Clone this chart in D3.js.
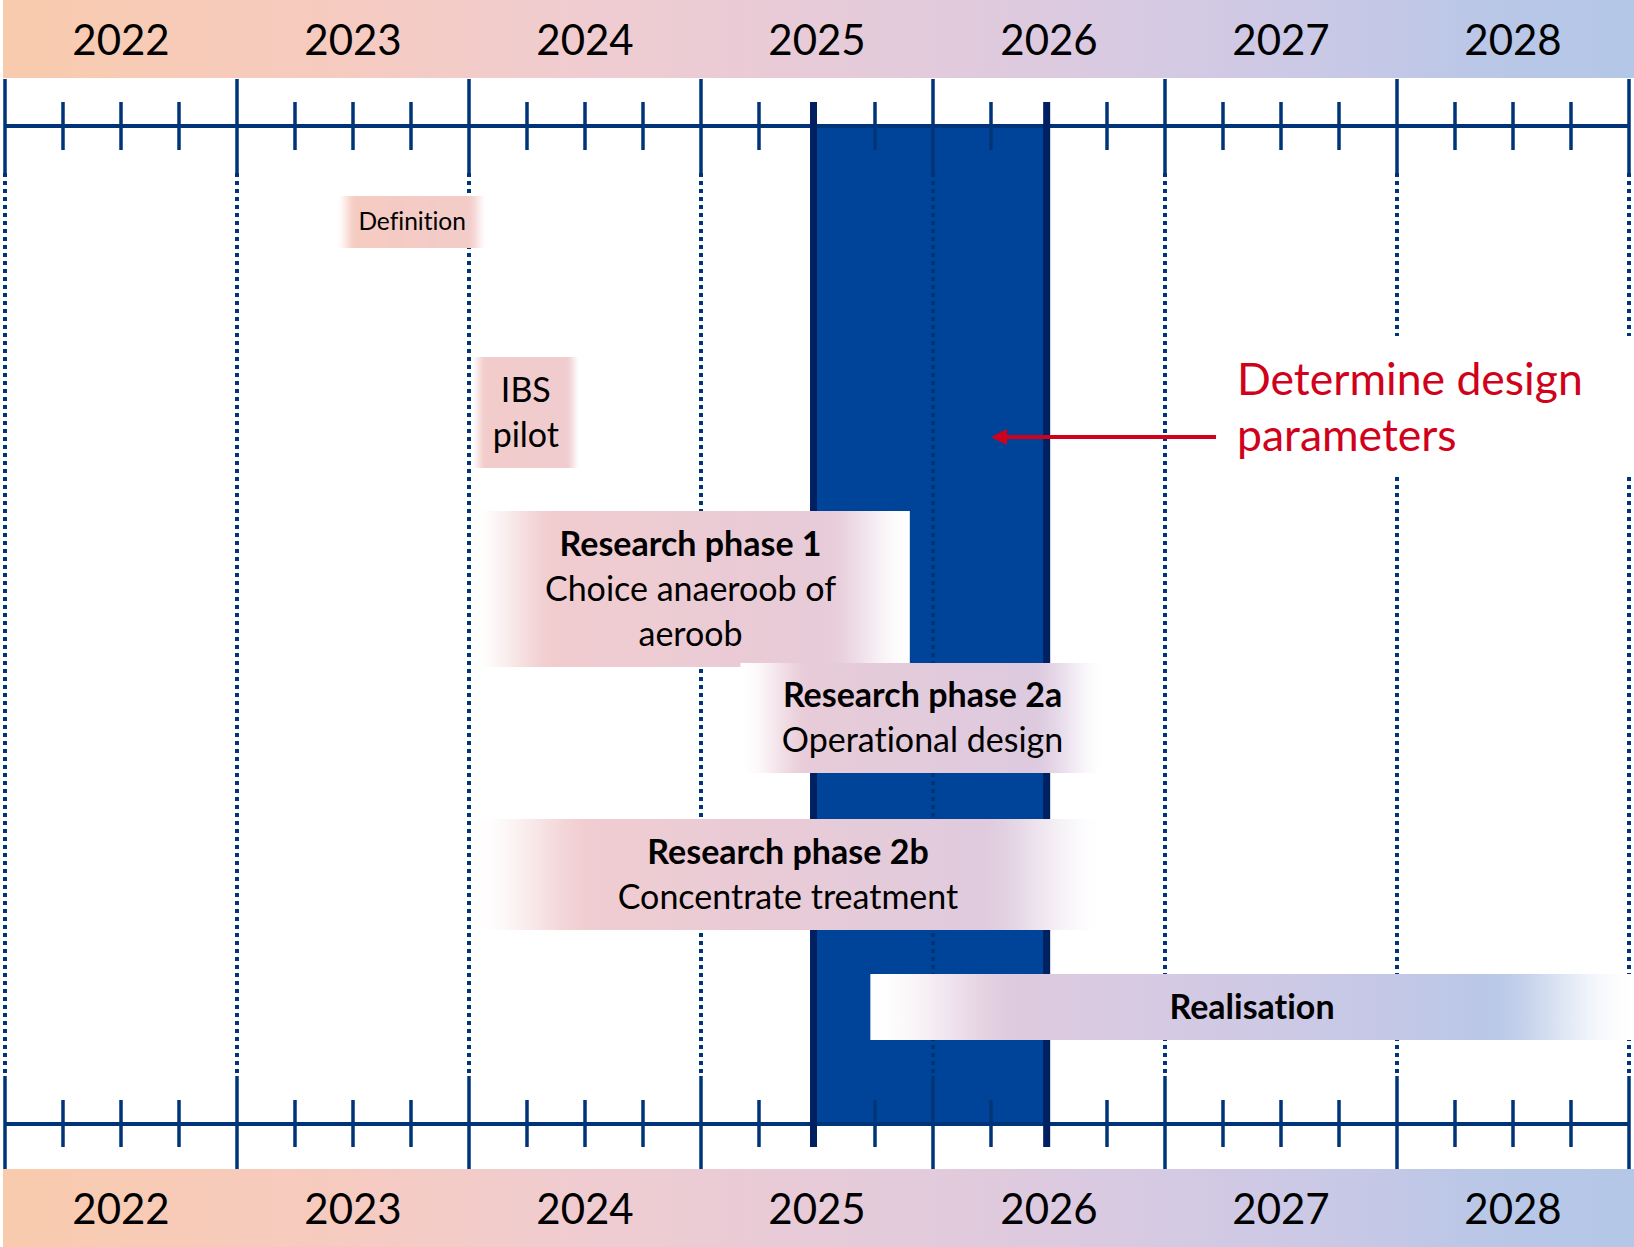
<!DOCTYPE html>
<html><head><meta charset="utf-8">
<script src="https://cdn.jsdelivr.net/npm/d3@7"></script>
<style>html,body{margin:0;padding:0;background:#fff;} svg{display:block;} text{font-variant-ligatures:none;font-feature-settings:"liga" 0;}</style>
</head><body>
<svg id="chart" width="1634" height="1247"></svg>
<script>
// ---------------- data ----------------
const years = [2022, 2023, 2024, 2025, 2026, 2027, 2028];
const quarterOffsets = [0.25, 0.5, 0.75];
const phaseTitles = ["", "", "Research phase 1", "Research phase 2a", "Research phase 2b", "Realisation"];
const phaseLines = [["Definition"], ["IBS", "pilot"], ["Choice anaeroob of", "aeroob"], ["Operational design"], ["Concentrate treatment"], []];
const phaseStart = [2023.43, 2024.01, 2024.01, 2025.17, 2024.02, 2025.73];
const phaseEnd   = [2024.08, 2024.48, 2025.90, 2026.74, 2026.73, 2029.02];
const focusWindow = [2025.485, 2026.49];
const focusLabel = ["Determine design", "parameters"];
const arrowSpan = [2027.22, 2026.25];

// ---------------- layout ----------------
const W = 1634, H = 1247;
const FONT = "Lato, 'Open Sans', 'DejaVu Sans', sans-serif";
const NAVY = "#003479", DARK = "#002060", RECT = "#00449a", RED = "#d0021b";
const rowBox = [[196, 248, 24.5, 0.13], [357, 468, 34, 0.13], [511, 667, 34, 0.2], [663, 773, 34, 0.2], [819, 930, 34, 0.2], [974, 1040, 34, 0.2]];
const lineH = 45;

const svg = d3.select("#chart");
const defs = svg.append("defs");
const x = d3.scaleLinear().domain([2022, 2029]).range([5, 1629]);

const bandColor = d3.scaleLinear()
  .domain([0, 0.2, 0.35, 0.5, 0.65, 0.8, 0.92, 1])
  .range(["#f8cbad", "#f6cbbf", "#f0ccd0", "#e7cbd8", "#dccae0", "#cbc9e6", "#b8c7e7", "#b4c7e7"])
  .interpolate(d3.interpolateRgb);

// header gradient
const hg = defs.append("linearGradient").attr("id", "band")
  .attr("gradientUnits", "userSpaceOnUse").attr("x1", 0).attr("x2", W).attr("y1", 0).attr("y2", 0);
d3.range(0, 1.0001, 0.05).forEach(t => hg.append("stop").attr("offset", t).attr("stop-color", bandColor(t)));

// bands
[[0, 78, 40], [1169, 1247, 1209]].forEach(([y0, y1, yc]) => {
  svg.append("rect").attr("x", 3).attr("y", y0).attr("width", W - 3).attr("height", y1 - y0).attr("fill", "url(#band)");
  svg.append("g").selectAll("text").data(years).join("text")
    .attr("x", d => x(d + 0.5)).attr("y", yc + 0.36 * 42)
    .attr("text-anchor", "middle").attr("font-family", FONT).attr("font-size", 42).attr("fill", "#000")
    .text(d => d);
});

// focus rectangle
svg.append("rect").attr("x", x(focusWindow[0])).attr("y", 126)
  .attr("width", x(focusWindow[1]) - x(focusWindow[0])).attr("height", 1124 - 126).attr("fill", RECT);

const boundaries = years.concat([2029]);
// dotted lines
svg.append("g").selectAll("line").data(boundaries).join("line")
  .attr("x1", d => x(d)).attr("x2", d => x(d)).attr("y1", 173).attr("y2", 1076)
  .attr("stroke", NAVY).attr("stroke-width", 4).attr("stroke-dasharray", "4,4");

// axes
[[126, 79, 173, 102, 150], [1124, 1076, 1169, 1100, 1147]].forEach(([ya, l0, l1, q0, q1]) => {
  const g = svg.append("g");
  g.append("line").attr("x1", x(2022)).attr("x2", x(2029)).attr("y1", ya).attr("y2", ya)
    .attr("stroke", NAVY).attr("stroke-width", 4);
  g.selectAll(".long").data(boundaries).join("line").attr("class", "long")
    .attr("x1", d => x(d)).attr("x2", d => x(d)).attr("y1", l0).attr("y2", l1)
    .attr("stroke", NAVY).attr("stroke-width", 3.5);
  const qs = years.flatMap(yy => quarterOffsets.map(q => yy + q));
  g.selectAll(".q").data(qs.filter(d => Math.abs(d - focusWindow[0]) > 0.05 && Math.abs(d - focusWindow[1]) > 0.05)).join("line").attr("class", "q")
    .attr("x1", d => x(d)).attr("x2", d => x(d)).attr("y1", q0).attr("y2", q1)
    .attr("stroke", NAVY).attr("stroke-width", 3.5);
  g.selectAll(".edge").data(focusWindow).join("line").attr("class", "edge")
    .attr("x1", d => x(d)).attr("x2", d => x(d))
    .attr("y1", ya === 126 ? q0 : ya).attr("y2", ya === 126 ? ya : q1)
    .attr("stroke", DARK).attr("stroke-width", 7);
});
// rectangle side edges
svg.append("g").selectAll("line").data(focusWindow).join("line")
  .attr("x1", d => x(d)).attr("x2", d => x(d)).attr("y1", 126).attr("y2", 1124)
  .attr("stroke", DARK).attr("stroke-width", 7);

// phase boxes
phaseStart.forEach((s, i) => {
  const x0 = x(s), x1 = Math.min(x(phaseEnd[i]), W), w = x1 - x0;
  const [y0, y1, fs, fade] = rowBox[i];
  const gid = "pg" + i;
  const gr = defs.append("linearGradient").attr("id", gid)
    .attr("x1", 0).attr("x2", 1).attr("y1", 0).attr("y2", 0);
  d3.range(0, 1.0001, 0.02).forEach(t => {
    const base = bandColor((x0 + t * w) / W);
    let f = Math.min(1, t / fade, (1 - t) / fade);
    f = Math.max(0, f); f = f * f * (3 - 2 * f);
    gr.append("stop").attr("offset", t).attr("stop-color", d3.interpolateRgb("#ffffff", base)(f));
  });
  svg.append("rect").attr("x", x0).attr("y", y0).attr("width", w).attr("height", y1 - y0).attr("fill", `url(#${gid})`);
  const lines = (phaseTitles[i] ? [{t: phaseTitles[i], b: true}] : []).concat(phaseLines[i].map(t => ({t, b: false})));
  const cy = (y0 + y1) / 2, cx = (x0 + x1) / 2;
  const lh = i === 0 ? 30 : lineH;
  svg.append("g").selectAll("text").data(lines).join("text")
    .attr("x", cx).attr("y", (d, k) => cy + (k - (lines.length - 1) / 2) * lh + 0.34 * fs)
    .attr("text-anchor", "middle").attr("font-family", FONT).attr("font-size", fs)
    .attr("font-weight", d => d.b ? "bold" : "normal").attr("fill", "#000")
    .text(d => d.t);
});

// label backdrop + red text
svg.append("rect").attr("x", 1230).attr("y", 336).attr("width", W - 1230).attr("height", 477 - 336).attr("fill", "#fff");
svg.append("g").selectAll("text").data(focusLabel).join("text")
  .attr("x", 1237).attr("y", (d, k) => 380 + k * 56 + 0.34 * 44.5)
  .attr("font-family", FONT).attr("font-size", 44.5).attr("fill", RED).text(d => d);

// arrow
const ay = 437;
svg.append("line").attr("x1", x(arrowSpan[0])).attr("x2", x(arrowSpan[1]) + 12).attr("y1", ay).attr("y2", ay)
  .attr("stroke", RED).attr("stroke-width", 4);
const ax = x(arrowSpan[1]);
svg.append("path").attr("d", `M${ax},${ay} L${ax + 16},${ay - 8} L${ax + 16},${ay + 8} Z`).attr("fill", RED);
</script>
</body></html>
